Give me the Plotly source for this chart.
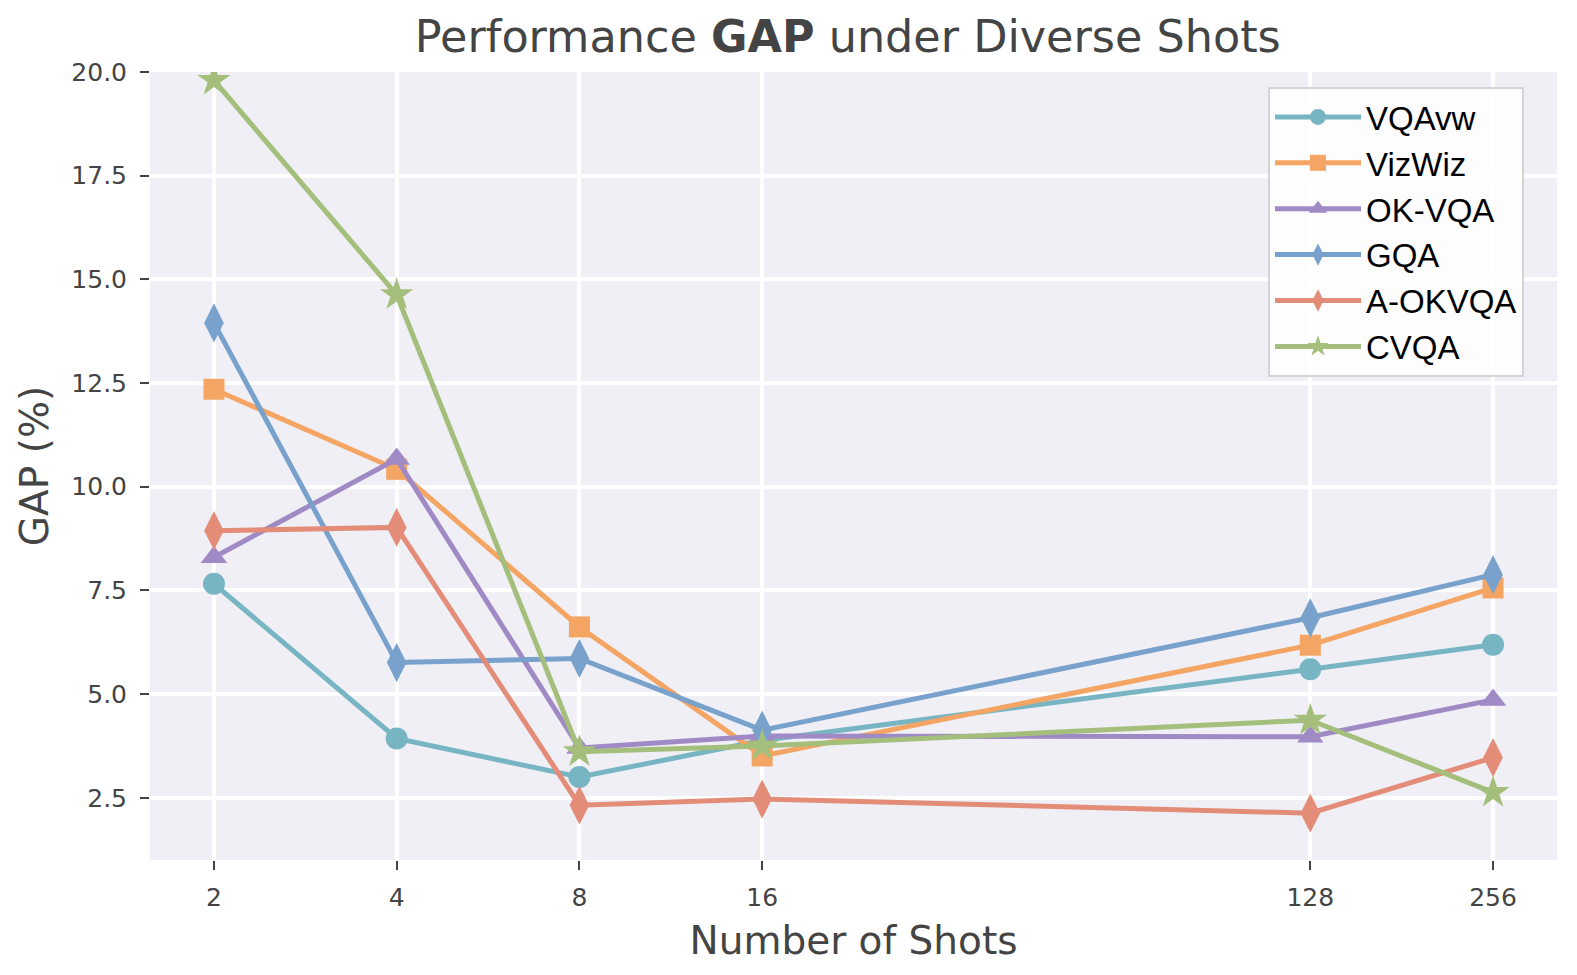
import numpy as np
import plotly.graph_objects as go

shots = [2, 4, 8, 16, 128, 256]
shot_labels = ["2", "4", "8", "16", "128", "256"]

vqavw = [7.66, 3.93, 3.00, 3.88, 5.60, 6.19]
vizwiz = [12.35, 10.42, 6.62, 3.51, 6.18, 7.56]
okvqa = [8.30, 10.67, 3.70, 3.99, 3.97, 4.86]
gqa = [13.95, 5.76, 5.86, 4.13, 6.84, 7.88]
aokvqa = [8.94, 9.02, 2.32, 2.47, 2.13, 3.47]
cvqa = [19.80, 14.63, 3.61, 3.75, 4.37, 2.63]

y_ticks = [2.5, 5.0, 7.5, 10.0, 12.5, 15.0, 17.5, 20.0]

series = [
    ("VQAvw", vqavw, "#78b5c3", "circle", 22),
    ("VizWiz", vizwiz, "#f4a463", "square", 21),
    ("OK-VQA", okvqa, "#a08ac5", "triangle-up", 23),
    ("GQA", gqa, "#78a1cc", "diamond-tall", 28),
    ("A-OKVQA", aokvqa, "#e38d78", "diamond-tall", 28),
    ("CVQA", cvqa, "#a4bf7c", "star", 25),
]

fig = go.Figure()
for name, vals, color, symbol, size in series:
    fig.add_trace(go.Scatter(
        x=shots, y=vals, name=name,
        mode="lines+markers",
        line=dict(color=color, width=5),
        marker=dict(symbol=symbol, size=size, color=color, line=dict(width=0)),
    ))

# matplotlib-like 5% margins on the log2 axis
lo, hi = np.log10(shots[0]), np.log10(shots[-1])
pad = (hi - lo) * 0.05

# page body has an 8px margin, so the figure is a bit smaller than the window
fig.update_layout(
    width=1561, height=959,
    margin=dict(l=142, r=12, t=64, b=107),
    paper_bgcolor="white",
    plot_bgcolor="#efeff5",
    font=dict(family="DejaVu Sans", color="#444444"),
    title=dict(
        text="Performance <b>GAP</b> under Diverse Shots",
        x=0.538, xanchor="center", y=0.970, yanchor="middle",
        font=dict(size=44.5, color="#444444"),
    ),
    legend=dict(
        x=0.7946, y=0.981, xanchor="left", yanchor="top",
        bgcolor="rgba(255,255,255,0.85)",
        bordercolor="#d4d4d4", borderwidth=2,
        font=dict(family="Liberation Sans", size=33, color="black"),
        itemwidth=86,
    ),
)

fig.update_xaxes(
    type="log", range=[lo - pad, hi + pad],
    tickvals=shots, ticktext=shot_labels,
    showgrid=True, gridcolor="white", gridwidth=3.5,
    ticks="outside", ticklen=9, tickwidth=2, tickcolor="#444444",
    tickfont=dict(size=25), ticklabelstandoff=6,
    title=dict(text="Number of Shots", font=dict(size=39), standoff=15),
    zeroline=False, showline=False,
)
fig.update_yaxes(
    range=[1.0, 20.0],
    tickvals=y_ticks, ticktext=[f"{v:.1f}" for v in y_ticks],
    showgrid=True, gridcolor="white", gridwidth=3.5,
    ticks="outside", ticklen=9, tickwidth=2, tickcolor="#444444",
    tickfont=dict(size=25), ticklabelstandoff=8,
    title=dict(text="GAP (%)", font=dict(size=39), standoff=10),
    zeroline=False, showline=False,
)

fig.write_html("out.html")
